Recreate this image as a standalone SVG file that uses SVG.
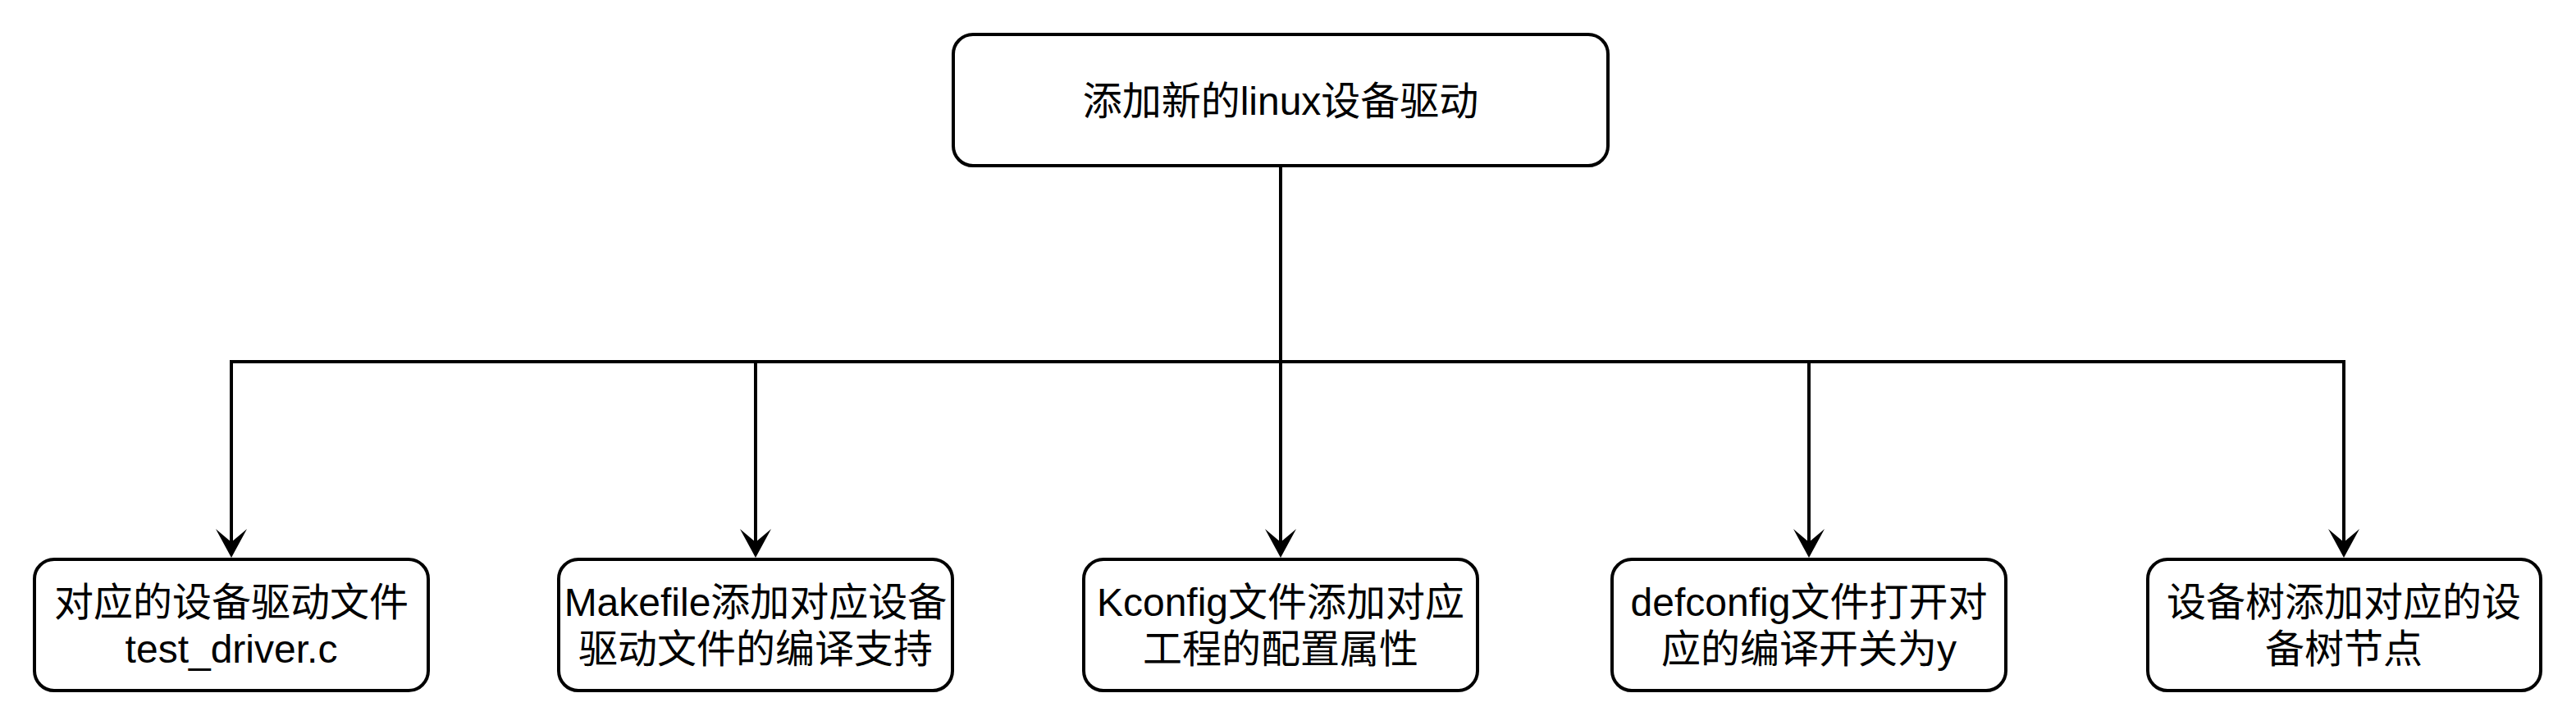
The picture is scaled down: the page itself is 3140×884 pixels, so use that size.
<svg xmlns="http://www.w3.org/2000/svg" width="3140" height="884" viewBox="0 0 3140 884">
<style>
.box{fill:#ffffff;stroke:#000000;stroke-width:4}
.lbl{font-family:"Liberation Sans","Noto Sans CJK SC",sans-serif;font-size:48px;fill:#000000;text-anchor:middle}
.edge{fill:none;stroke:#000000;stroke-width:4}
.head{fill:#000000;stroke:none}
</style>
<rect width="3140" height="884" fill="#ffffff"/>
<g id="connectors">
<path class="edge" d="M1561 202 V441 H282 V662"/>
<path class="edge" d="M1561 202 V441 H921 V662"/>
<path class="edge" d="M1561 202 V662"/>
<path class="edge" d="M1561 202 V441 H2205 V662"/>
<path class="edge" d="M1561 202 V441 H2857 V662"/>
<path class="head" d="M282 680 L263 645 L282 661 L301 645 Z"/>
<path class="head" d="M921 680 L902 645 L921 661 L940 645 Z"/>
<path class="head" d="M1561 680 L1542 645 L1561 661 L1580 645 Z"/>
<path class="head" d="M2205 680 L2186 645 L2205 661 L2224 645 Z"/>
<path class="head" d="M2857 680 L2838 645 L2857 661 L2876 645 Z"/>
</g>
<g id="node-root">
<rect class="box" x="1162" y="42" width="798" height="160" rx="24" ry="24"/>
<text class="lbl" x="1561" y="140">添加新的linux设备驱动</text>
</g>
<g id="node-driver">
<rect class="box" x="42" y="682" width="480" height="160" rx="24" ry="24"/>
<text class="lbl" x="282" y="751">对应的设备驱动文件</text>
<text class="lbl" x="282" y="808">test_driver.c</text>
</g>
<g id="node-makefile">
<rect class="box" x="681" y="682" width="480" height="160" rx="24" ry="24"/>
<text class="lbl" x="921" y="751">Makefile添加对应设备</text>
<text class="lbl" x="921" y="808">驱动文件的编译支持</text>
</g>
<g id="node-kconfig">
<rect class="box" x="1321" y="682" width="480" height="160" rx="24" ry="24"/>
<text class="lbl" x="1561" y="751">Kconfig文件添加对应</text>
<text class="lbl" x="1561" y="808">工程的配置属性</text>
</g>
<g id="node-defconfig">
<rect class="box" x="1965" y="682" width="480" height="160" rx="24" ry="24"/>
<text class="lbl" x="2205" y="751">defconfig文件打开对</text>
<text class="lbl" x="2205" y="808">应的编译开关为y</text>
</g>
<g id="node-dts">
<rect class="box" x="2618" y="682" width="479" height="160" rx="24" ry="24"/>
<text class="lbl" x="2857" y="751">设备树添加对应的设</text>
<text class="lbl" x="2857" y="808">备树节点</text>
</g>
</svg>
